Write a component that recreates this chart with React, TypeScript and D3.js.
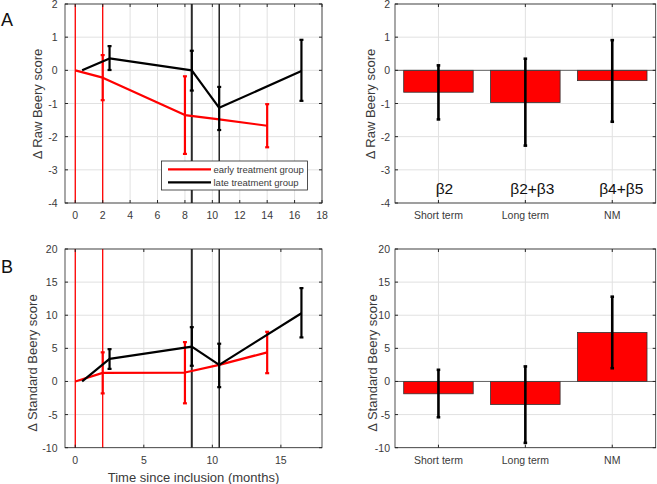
import React from "react";
import * as d3 from "d3";

// ---------- data ----------
const timeEarly = [0, 2, 8, 10.5, 14];
const rawEarlyMean = [0, -0.22, -1.35, -1.48, -1.67];
const rawEarlyLo = [null, -0.9, -2.52, null, -2.32];
const rawEarlyHi = [null, 0.46, -0.18, null, -1.02];

const timeLate = [0.5, 2.5, 8.5, 10.5, 16.5];
const rawLateMean = [0, 0.36, 0, -1.13, -0.02];
const rawLateLo = [null, 0.01, -0.61, -1.8, -0.92];
const rawLateHi = [null, 0.73, 0.59, -0.5, 0.92];

const stdEarlyMean = [0, 1.3, 1.35, 2.5, 4.4];
const stdEarlyLo = [null, -1.8, -3.3, null, 1.25];
const stdEarlyHi = [null, 4.4, 5.94, null, 7.5];

const stdLateMean = [0, 3.4, 5.25, 2.5, 10.3];
const stdLateLo = [null, 1.9, 2.37, -0.86, 6.65];
const stdLateHi = [null, 4.88, 8.2, 5.7, 14.1];

const earlyMarkers = [0, 2];
const lateMarkers = [8.5, 10.5];

const categories = ["Short term", "Long term", "NM"];
const betaLabels = ["β2", "β2+β3", "β4+β5"];
const rawBar = [-0.66, -0.97, -0.31];
const rawBarLo = [-1.48, -2.27, -1.55];
const rawBarHi = [0.15, 0.35, 0.91];
const stdBar = [-1.86, -3.47, 7.4];
const stdBarLo = [-5.4, -9.27, 2.0];
const stdBarHi = [1.76, 2.27, 12.8];

const rawTicks = [-4, -3, -2, -1, 0, 1, 2];
const stdTicks = [-10, -5, 0, 5, 10, 15, 20];
const timeTicksTop = [0, 2, 4, 6, 8, 10, 12, 14, 16, 18];
const timeTicksBottom = [0, 5, 10, 15];

const AX = "#262626";
const GRID = "#e1e1e1";
const TICK = "#3a3a3a";
const FONT = "'Liberation Sans', Arial, Helvetica, sans-serif";

type Box = { l: number; r: number; t: number; b: number };

function Frame({ box, x, y, xTicks, yTicks, xTickFmt, xTickY, yTickX }: any) {
  return (
    <g>
      <rect x={box.l} y={box.t} width={box.r - box.l} height={box.b - box.t} fill="#fff" />
      {xTicks.map((t: any, i: number) => (
        <line key={"gx" + i} x1={x(t)} x2={x(t)} y1={box.t} y2={box.b} stroke={GRID} strokeWidth={1} />
      ))}
      {yTicks.map((t: number) => (
        <line key={"gy" + t} x1={box.l} x2={box.r} y1={y(t)} y2={y(t)} stroke={GRID} strokeWidth={1} />
      ))}
      {yTicks.map((t: number) => (
        <text key={"ty" + t} x={yTickX} y={y(t)} textAnchor="end" dominantBaseline="central" fontSize={10.5} fill={TICK} fontFamily={FONT}>
          {t}
        </text>
      ))}
      {xTicks.map((t: any, i: number) => (
        <text key={"tx" + i} x={x(t)} y={xTickY} textAnchor="middle" dominantBaseline="central" fontSize={10.5} fill={TICK} fontFamily={FONT}>
          {xTickFmt ? xTickFmt(t) : t}
        </text>
      ))}
    </g>
  );
}

function BoxOutline({ box, x, y, xTicks, yTicks }: any) {
  return (
    <g>
      {xTicks.map((t: any, i: number) => (
        <g key={"mx" + i}>
          <line x1={x(t)} x2={x(t)} y1={box.b} y2={box.b - 3} stroke={AX} />
          <line x1={x(t)} x2={x(t)} y1={box.t} y2={box.t + 3} stroke={AX} />
        </g>
      ))}
      {yTicks.map((t: number) => (
        <g key={"my" + t}>
          <line x1={box.l} x2={box.l + 3} y1={y(t)} y2={y(t)} stroke={AX} />
          <line x1={box.r} x2={box.r - 3} y1={y(t)} y2={y(t)} stroke={AX} />
        </g>
      ))}
      <rect x={box.l} y={box.t} width={box.r - box.l} height={box.b - box.t} fill="none" stroke={AX} strokeWidth={0.8} />
    </g>
  );
}

function Series({ xs, mean, lo, hi, color, x, y }: any) {
  const line = d3
    .line<number>()
    .x((_, i) => x(xs[i]))
    .y((d) => y(d));
  return (
    <g>
      <path d={line(mean) || ""} fill="none" stroke={color} strokeWidth={2.2} strokeLinejoin="round" />
      {xs.map((xv: number, i: number) =>
        lo[i] === null ? null : (
          <g key={i}>
            <line x1={x(xv)} x2={x(xv)} y1={y(lo[i])} y2={y(hi[i])} stroke={color} strokeWidth={2.2} />
            <line x1={x(xv) - 2} x2={x(xv) + 2} y1={y(lo[i])} y2={y(lo[i])} stroke={color} strokeWidth={2.2} />
            <line x1={x(xv) - 2} x2={x(xv) + 2} y1={y(hi[i])} y2={y(hi[i])} stroke={color} strokeWidth={2.2} />
          </g>
        )
      )}
    </g>
  );
}

function LinePanel({ box, yDomain, yTicks, xTicks, data, yLabel, yLabelX, yLabelY, xTickY, legend, xLabel }: any) {
  const x = d3.scaleLinear().domain([-0.75, 18]).range([box.l, box.r]);
  const y = d3.scaleLinear().domain(yDomain).range([box.b, box.t]);
  return (
    <g>
      <Frame box={box} x={x} y={y} xTicks={xTicks} yTicks={yTicks} xTickY={xTickY} yTickX={box.l - 7.5} />
      {earlyMarkers.map((m) => (
        <line key={"em" + m} x1={x(m)} x2={x(m)} y1={box.t} y2={box.b} stroke="#ff0000" strokeWidth={1.3} />
      ))}
      <line x1={x(lateMarkers[0])} x2={x(lateMarkers[0])} y1={box.t} y2={box.b} stroke="#2a2a2a" strokeWidth={2} />
      <line x1={x(lateMarkers[1])} x2={x(lateMarkers[1])} y1={box.t} y2={box.b} stroke="#000" strokeWidth={1.3} />
      <Series xs={timeEarly} mean={data.em} lo={data.el} hi={data.eh} color="#ff0000" x={x} y={y} />
      <Series xs={timeLate} mean={data.lm} lo={data.ll} hi={data.lh} color="#000000" x={x} y={y} />
      <BoxOutline box={box} x={x} y={y} xTicks={xTicks} yTicks={yTicks} />
      <text transform={`translate(${yLabelX},${yLabelY}) rotate(-90)`} textAnchor="middle" dominantBaseline="central" fontSize={13} fill={TICK} fontFamily={FONT}>
        {yLabel}
      </text>
      {xLabel ? (
        <text x={(box.l + box.r) / 2 + 0} y={477} textAnchor="middle" dominantBaseline="central" fontSize={13} fill={TICK} fontFamily={FONT}>
          {xLabel}
        </text>
      ) : null}
      {legend ? (
        <g>
          <rect x={161.5} y={161} width={146} height={29} fill="#fff" stroke={AX} strokeWidth={0.8} />
          <line x1={168} x2={211} y1={169.3} y2={169.3} stroke="#ff0000" strokeWidth={2.2} />
          <line x1={168} x2={211} y1={182.3} y2={182.3} stroke="#000" strokeWidth={2.2} />
          <text x={213.5} y={169.3} dominantBaseline="central" fontSize={9.5} fill={TICK} fontFamily={FONT}>
            early treatment group
          </text>
          <text x={213.5} y={182.3} dominantBaseline="central" fontSize={9.5} fill={TICK} fontFamily={FONT}>
            late treatment group
          </text>
        </g>
      ) : null}
    </g>
  );
}

function BarPanel({ box, yDomain, yTicks, values, lo, hi, yLabel, yLabelX, yLabelY, xTickY, betas }: any) {
  const idx = categories.map((_, i) => i + 1);
  const x = d3.scaleLinear().domain([0.5, 3.5]).range([box.l, box.r]);
  const y = d3.scaleLinear().domain(yDomain).range([box.b, box.t]);
  const bw = x(1.4) - x(0.6);
  const betaOffsets = [6, 7, 9];
  return (
    <g>
      <Frame box={box} x={x} y={y} xTicks={idx} yTicks={yTicks} xTickY={xTickY} xTickFmt={(t: number) => categories[t - 1]} yTickX={box.l - 5} />
      {values.map((v: number, i: number) => (
        <rect key={"b" + i} x={x(i + 1) - bw / 2} width={bw} y={Math.min(y(v), y(0))} height={Math.abs(y(v) - y(0))} fill="#ff0000" stroke="#333" strokeWidth={0.8} />
      ))}
      <line x1={box.l} x2={box.r} y1={y(0)} y2={y(0)} stroke="#444" strokeWidth={0.8} />
      {values.map((v: number, i: number) => (
        <g key={"e" + i}>
          <line x1={x(i + 1)} x2={x(i + 1)} y1={y(lo[i])} y2={y(hi[i])} stroke="#000" strokeWidth={2.6} />
          <line x1={x(i + 1) - 1.8} x2={x(i + 1) + 1.8} y1={y(lo[i])} y2={y(lo[i])} stroke="#000" strokeWidth={2.6} />
          <line x1={x(i + 1) - 1.8} x2={x(i + 1) + 1.8} y1={y(hi[i])} y2={y(hi[i])} stroke="#000" strokeWidth={2.6} />
        </g>
      ))}
      <BoxOutline box={box} x={x} y={y} xTicks={idx} yTicks={yTicks} />
      {betas
        ? betaLabels.map((b, i) => (
            <text key={"bl" + i} x={x(i + 1) + betaOffsets[i]} y={188} textAnchor="middle" dominantBaseline="central" fontSize={15.5} fill="#111" fontFamily={FONT}>
              {b}
            </text>
          ))
        : null}
      <text transform={`translate(${yLabelX},${yLabelY}) rotate(-90)`} textAnchor="middle" dominantBaseline="central" fontSize={13} fill={TICK} fontFamily={FONT}>
        {yLabel}
      </text>
    </g>
  );
}

export default function App() {
  const topL: Box = { l: 65, r: 322, t: 4, b: 203 };
  const botL: Box = { l: 65, r: 322, t: 249, b: 447.7 };
  const topR: Box = { l: 395, r: 655.7, t: 4, b: 203 };
  const botR: Box = { l: 395, r: 655.7, t: 249, b: 447.7 };
  return (
    <svg width={657} height={484} style={{ position: "absolute", left: 0, top: 0, background: "#fff" }}>
      <rect width={657} height={484} fill="#fff" />
      <LinePanel
        box={topL}
        yDomain={[-4, 2]}
        yTicks={rawTicks}
        xTicks={timeTicksTop}
        xTickY={215}
        data={{ em: rawEarlyMean, el: rawEarlyLo, eh: rawEarlyHi, lm: rawLateMean, ll: rawLateLo, lh: rawLateHi }}
        yLabel="Δ Raw Beery score"
        yLabelX={37}
        yLabelY={104}
        legend
      />
      <LinePanel
        box={botL}
        yDomain={[-10, 20]}
        yTicks={stdTicks}
        xTicks={timeTicksBottom}
        xTickY={460}
        data={{ em: stdEarlyMean, el: stdEarlyLo, eh: stdEarlyHi, lm: stdLateMean, ll: stdLateLo, lh: stdLateHi }}
        yLabel="Δ Standard Beery score"
        yLabelX={32.5}
        yLabelY={363}
        xLabel="Time since inclusion (months)"
      />
      <BarPanel
        box={topR}
        yDomain={[-4, 2]}
        yTicks={rawTicks}
        values={rawBar}
        lo={rawBarLo}
        hi={rawBarHi}
        yLabel="Δ Raw Beery score"
        yLabelX={370}
        yLabelY={104}
        xTickY={215}
        betas
      />
      <BarPanel
        box={botR}
        yDomain={[-10, 20]}
        yTicks={stdTicks}
        values={stdBar}
        lo={stdBarLo}
        hi={stdBarHi}
        yLabel="Δ Standard Beery score"
        yLabelX={372}
        yLabelY={363}
        xTickY={460}
      />
      <text x={1} y={20} dominantBaseline="central" fontSize={18} fill="#111" fontFamily={FONT}>A</text>
      <text x={1} y={267} dominantBaseline="central" fontSize={18} fill="#111" fontFamily={FONT}>B</text>
    </svg>
  );
}
